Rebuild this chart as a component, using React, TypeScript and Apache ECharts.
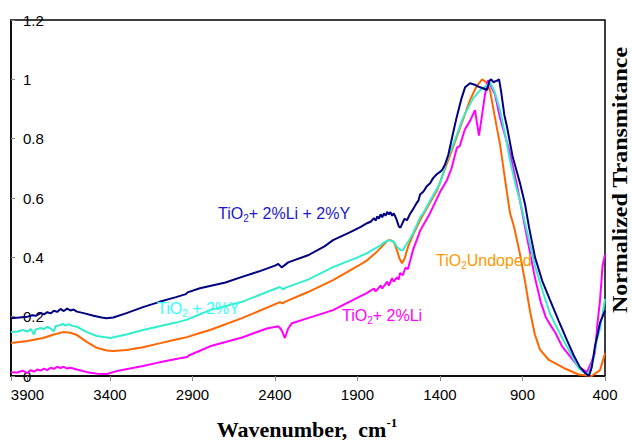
import React, { useEffect, useRef } from "react";
import * as echarts from "echarts";

// Wavenumber (cm-1) and normalized transmittance values
const WN_LIY = [4000, 3950, 3900, 3870, 3850, 3820, 3800, 3780, 3760, 3740, 3720, 3700, 3680, 3660, 3640, 3620, 3600, 3560, 3500, 3450, 3420, 3380, 3300, 3200, 3100, 3000, 2940, 2930, 2855, 2700, 2600, 2500, 2400, 2380, 2360, 2345, 2320, 2200, 2100, 2048, 1950, 1880, 1842, 1820, 1800, 1790, 1780, 1770, 1760, 1750, 1740, 1730, 1720, 1710, 1700, 1690, 1680, 1665, 1650, 1640, 1630, 1615, 1600, 1580, 1560, 1545, 1530, 1521, 1500, 1480, 1460, 1442, 1420, 1400, 1388, 1370, 1350, 1321, 1300, 1270, 1248, 1218, 1190, 1170, 1140, 1115, 1100, 1090, 1075, 1067, 1055, 1042, 1030, 1010, 994, 960, 915, 885, 860, 824, 780, 733, 680, 630, 590, 552, 520, 497, 480, 461, 445, 430, 415, 400];
const T_LIY = [0.195, 0.197, 0.2, 0.205, 0.203, 0.212, 0.208, 0.215, 0.211, 0.22, 0.216, 0.226, 0.219, 0.227, 0.221, 0.224, 0.217, 0.212, 0.203, 0.197, 0.195, 0.197, 0.212, 0.232, 0.25, 0.266, 0.276, 0.282, 0.296, 0.315, 0.334, 0.352, 0.372, 0.378, 0.366, 0.372, 0.383, 0.407, 0.437, 0.458, 0.483, 0.503, 0.515, 0.52, 0.532, 0.524, 0.538, 0.53, 0.545, 0.535, 0.548, 0.54, 0.553, 0.545, 0.552, 0.54, 0.548, 0.53, 0.505, 0.5, 0.512, 0.53, 0.525, 0.548, 0.565, 0.58, 0.592, 0.612, 0.622, 0.64, 0.65, 0.667, 0.68, 0.688, 0.694, 0.712, 0.745, 0.818, 0.87, 0.935, 0.973, 0.987, 0.982, 0.976, 0.97, 0.964, 0.995, 1.0, 0.99, 0.993, 0.995, 1.0, 0.96, 0.88, 0.84, 0.74, 0.65, 0.58, 0.5, 0.4, 0.32, 0.256, 0.185, 0.12, 0.07, 0.03, 0.01, 0.0, 0.03, 0.1, 0.14, 0.18, 0.2, 0.22];

const WN_Y = [4000, 3960, 3930, 3900, 3880, 3860, 3850, 3820, 3800, 3780, 3760, 3740, 3730, 3700, 3685, 3670, 3650, 3630, 3600, 3540, 3480, 3400, 3300, 3200, 3100, 3000, 2933, 2855, 2794, 2600, 2450, 2370, 2350, 2335, 2200, 2048, 1900, 1842, 1800, 1760, 1745, 1720, 1700, 1680, 1660, 1640, 1625, 1610, 1590, 1564, 1540, 1520, 1500, 1461, 1400, 1358, 1300, 1261, 1200, 1158, 1115, 1097, 1070, 1036, 1000, 976, 940, 915, 870, 824, 780, 733, 680, 630, 560, 510, 490, 470, 450, 430, 415, 400];
const T_Y = [0.148, 0.15, 0.155, 0.15, 0.158, 0.14, 0.157, 0.162, 0.158, 0.166, 0.16, 0.15, 0.168, 0.172, 0.176, 0.17, 0.175, 0.169, 0.166, 0.148, 0.135, 0.128, 0.14, 0.155, 0.168, 0.18, 0.19, 0.208, 0.222, 0.25, 0.283, 0.3, 0.292, 0.298, 0.325, 0.367, 0.4, 0.414, 0.428, 0.44, 0.448, 0.455, 0.458, 0.452, 0.435, 0.425, 0.424, 0.438, 0.455, 0.48, 0.51, 0.535, 0.55, 0.59, 0.65, 0.727, 0.81, 0.87, 0.935, 0.963, 0.98, 0.99, 0.96, 0.896, 0.8, 0.727, 0.64, 0.59, 0.48, 0.37, 0.29, 0.21, 0.15, 0.098, 0.027, 0.005, 0.02, 0.06, 0.12, 0.16, 0.21, 0.26];

const WN_UNDOPED = [4000, 3900, 3806, 3740, 3685, 3640, 3600, 3539, 3480, 3420, 3382, 3300, 3200, 3100, 3000, 2933, 2855, 2794, 2600, 2370, 2355, 2340, 2200, 2048, 1900, 1842, 1780, 1715, 1700, 1680, 1661, 1645, 1630, 1615, 1594, 1560, 1521, 1418, 1321, 1270, 1218, 1180, 1145, 1120, 1097, 1070, 1036, 1000, 976, 950, 915, 885, 855, 825, 795, 740, 650, 560, 480, 430, 400];
const T_UNDOPED = [0.111, 0.118, 0.128, 0.14, 0.148, 0.146, 0.138, 0.114, 0.095, 0.086, 0.084, 0.088, 0.097, 0.11, 0.123, 0.131, 0.145, 0.155, 0.195, 0.249, 0.245, 0.25, 0.283, 0.323, 0.37, 0.39, 0.42, 0.458, 0.458, 0.452, 0.424, 0.395, 0.38, 0.395, 0.435, 0.48, 0.525, 0.626, 0.771, 0.85, 0.93, 0.975, 1.0, 0.99, 0.963, 0.88, 0.78, 0.64, 0.55, 0.5, 0.41, 0.32, 0.22, 0.14, 0.09, 0.054, 0.027, 0.005, 0.0, 0.02, 0.077];

const WN_LI = [4000, 3960, 3930, 3900, 3880, 3860, 3840, 3820, 3800, 3780, 3760, 3740, 3720, 3700, 3680, 3660, 3640, 3600, 3539, 3480, 3418, 3350, 3200, 3100, 3000, 2933, 2920, 2855, 2794, 2600, 2449, 2380, 2360, 2340, 2320, 2297, 2200, 2048, 1950, 1842, 1800, 1790, 1760, 1750, 1720, 1710, 1690, 1680, 1661, 1650, 1642, 1625, 1610, 1595, 1580, 1564, 1540, 1520, 1500, 1461, 1400, 1358, 1330, 1297, 1280, 1250, 1218, 1188, 1175, 1164, 1145, 1127, 1109, 1090, 1067, 1036, 1000, 976, 940, 915, 870, 824, 790, 760, 750, 740, 700, 660, 560, 509, 480, 461, 445, 430, 415, 400];
const T_LI = [0.013, 0.012, 0.018, 0.01, 0.02, 0.015, 0.022, 0.018, 0.025, 0.02, 0.028, 0.024, 0.031, 0.027, 0.031, 0.025, 0.028, 0.022, 0.013, 0.008, 0.007, 0.018, 0.034, 0.046, 0.057, 0.064, 0.07, 0.085, 0.1, 0.13, 0.16, 0.168, 0.155, 0.128, 0.16, 0.178, 0.195, 0.222, 0.25, 0.28, 0.295, 0.285, 0.305, 0.295, 0.318, 0.305, 0.33, 0.318, 0.333, 0.325, 0.347, 0.34, 0.365, 0.36, 0.39, 0.424, 0.46, 0.49, 0.51, 0.548, 0.62, 0.66, 0.7, 0.77, 0.775, 0.83, 0.86, 0.896, 0.85, 0.81, 0.88, 0.95, 0.997, 0.975, 0.95, 0.87, 0.8, 0.75, 0.66, 0.59, 0.46, 0.33, 0.25, 0.2, 0.19, 0.18, 0.145, 0.1, 0.03, 0.013, 0.05, 0.077, 0.18, 0.256, 0.37, 0.41];

const X_MIN = 400;
const X_MAX = 4000;
const X_STEP = 500;
const Y_MIN = 0;
const Y_MAX = 1.2;
const Y_STEP = 0.2;

const pairs = (xs: number[], ys: number[]) => xs.map((x, i) => [x, ys[i]]);

const SANS = "Liberation Sans, Arial, sans-serif";
const SERIF = "Liberation Serif, Times New Roman, serif";

function label(x: number, y: number, before: string, after: string, color: string) {
  return {
    type: "text",
    x,
    y,
    z: 100,
    style: {
      text: `{a|${before}}{s|2}{a|${after}}`,
      align: "left",
      verticalAlign: "middle",
      fill: color,
      rich: {
        a: { fontSize: 16, fontFamily: SANS, fill: color, lineHeight: 20 },
        s: { fontSize: 10, fontFamily: SANS, fill: color, lineHeight: 10, verticalAlign: "bottom" },
      },
    },
  };
}

export default function App() {
  const ref = useRef<HTMLDivElement>(null);
  useEffect(() => {
    if (!ref.current) return;
    const chart = echarts.init(ref.current, null, { renderer: "svg" });
    const line = (name: string, xs: number[], ys: number[], color: string) => ({
      name,
      type: "line",
      data: pairs(xs, ys),
      showSymbol: false,
      symbol: "none",
      lineStyle: { color, width: 2 },
      itemStyle: { color },
    });
    chart.setOption({
      animation: false,
      backgroundColor: "#fff",
      grid: { left: 11, right: 27, top: 20, bottom: 64, show: true, borderColor: "#000", borderWidth: 1.5, containLabel: false },
      xAxis: {
        type: "value",
        inverse: true,
        min: X_MIN,
        max: X_MAX,
        interval: X_STEP,
        axisLine: { show: true, lineStyle: { color: "#000", width: 1.5 } },
        axisTick: { show: true, inside: false, length: 5, lineStyle: { color: "#888" } },
        axisLabel: {
          color: "#000",
          fontSize: 15,
          fontFamily: SANS,
          margin: 11,
          formatter: (v: number) => (v === X_MAX ? "" : String(v)),
        },
        splitLine: { show: false },
      },
      yAxis: {
        type: "value",
        min: Y_MIN,
        max: Y_MAX,
        interval: Y_STEP,
        axisLine: { show: true, lineStyle: { color: "#000", width: 1.5 } },
        axisTick: { show: true, inside: true, length: 4, lineStyle: { color: "#888" } },
        axisLabel: {
          inside: true,
          color: "#000",
          fontSize: 15,
          fontFamily: SANS,
          margin: 12,
        },
        splitLine: { show: false },
      },
      series: [
        line("TiO2 Undoped", WN_UNDOPED, T_UNDOPED, "#ff6600"),
        line("TiO2+ 2%Li", WN_LI, T_LI, "#ff00ff"),
        line("TiO2 + 2%Y", WN_Y, T_Y, "#33eecc"),
        line("TiO2+ 2%Li + 2%Y", WN_LIY, T_LIY, "#000080"),
      ],
      graphic: [
        label(218, 213, "TiO", "+ 2%Li + 2%Y", "#1a1acc"),
        label(157, 308, "TiO", " + 2%Y", "#33ffff"),
        label(342, 315, "TiO", "+ 2%Li", "#ff00ff"),
        label(436, 260, "TiO", "Undoped", "#ff9900"),
        {
          type: "text",
          x: 307,
          y: 429,
          style: {
            text: "{b|Wavenumber,  cm}{p|-1}",
            align: "center",
            verticalAlign: "middle",
            fill: "#000",
            rich: {
              b: { fontSize: 22, fontFamily: SERIF, fontWeight: "bold", fill: "#000", lineHeight: 26 },
              p: { fontSize: 13, fontFamily: SERIF, fontWeight: "bold", fill: "#000", lineHeight: 13, verticalAlign: "top" },
            },
          },
        },
        {
          type: "text",
          x: 620,
          y: 180,
          rotation: Math.PI / 2,
          scaleX: 1.2,
          style: {
            text: "Normalized Transmitance",
            align: "center",
            verticalAlign: "middle",
            fill: "#000",
            fontSize: 20,
            fontFamily: SERIF,
            fontWeight: "bold",
          },
        },
      ],
    });
    return () => chart.dispose();
  }, []);
  return (
    <div
      ref={ref}
      style={{ position: "fixed", left: 0, top: 0, width: 632, height: 440, background: "#fff" }}
    />
  );
}
